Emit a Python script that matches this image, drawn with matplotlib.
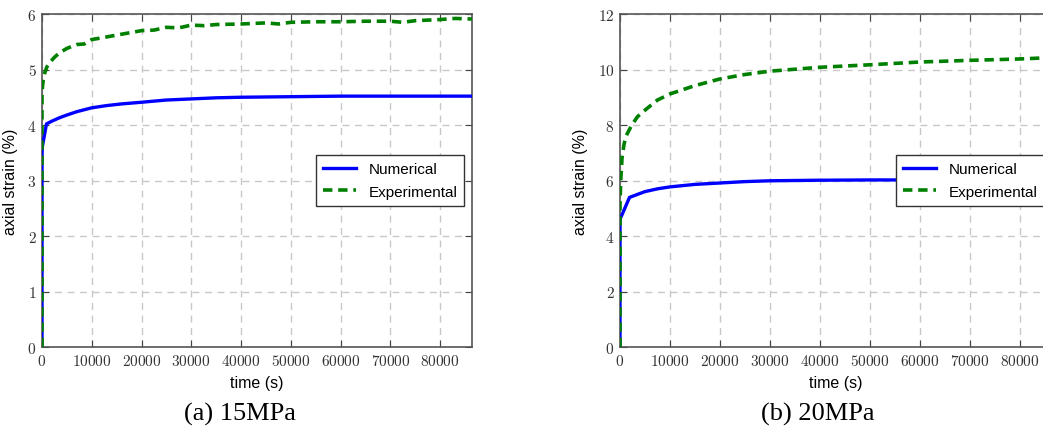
import matplotlib
matplotlib.use("Agg")
import matplotlib.pyplot as plt
from matplotlib.ticker import FuncFormatter, MultipleLocator

plt.rcParams['mathtext.fontset'] = 'cm'

# ---------------- data ----------------
# (a) 15 MPa
t_num_a = [0, 0, 50, 900, 2000, 3500, 5000, 7000, 10000, 13000, 16000, 20000, 25000,
           30000, 35000, 40000, 50000, 60000, 86400]
v_num_a = [0, 3.4, 3.6, 4.02, 4.07, 4.13, 4.18, 4.24, 4.31, 4.35, 4.38, 4.41, 4.45,
           4.47, 4.49, 4.50, 4.51, 4.52, 4.52]

t_exp_a = [0, 0, 100, 300, 600, 1000, 1600, 2500, 3500, 5000, 7000, 8500, 10000, 12000,
           15000, 17500, 20000, 22500, 25000, 27500, 30000, 32500, 35000, 40000, 45000,
           47500, 50000, 55000, 60000, 65000, 70000, 72500, 75000, 80000, 83000, 86400]
v_exp_a = [0, 4.5, 4.7, 4.85, 4.95, 5.05, 5.13, 5.22, 5.30, 5.38, 5.45, 5.46, 5.54, 5.57,
           5.62, 5.66, 5.70, 5.71, 5.76, 5.75, 5.80, 5.79, 5.81, 5.82, 5.84,
           5.82, 5.85, 5.86, 5.86, 5.87, 5.87, 5.85, 5.88, 5.90, 5.92, 5.91]

# (b) 20 MPa
t_num_b = [0, 0, 1900, 3500, 5000, 7500, 10000, 15000, 20000, 25000, 30000, 40000, 50000, 86400]
v_num_b = [0, 4.6, 5.39, 5.50, 5.60, 5.70, 5.77, 5.86, 5.91, 5.96, 5.99, 6.01, 6.02, 6.02]

t_exp_b = [0, 0, 150, 400, 800, 1200, 2300, 3500, 5300, 7500, 10000, 15000, 20000,
           25000, 30000, 40000, 50000, 60000, 70000, 80000, 86400]
v_exp_b = [0, 5.2, 6.0, 6.8, 7.3, 7.6, 7.98, 8.3, 8.58, 8.9, 9.12, 9.42, 9.66,
           9.82, 9.94, 10.08, 10.17, 10.27, 10.33, 10.38, 10.43]

captions = ["(a) 15MPa", "(b) 20MPa"]
ylims = [6, 12]
ysteps = [1, 2]
series_labels = ["Numerical", "Experimental"]

# ---------------- figure ----------------
W, H = 1043, 435
fig = plt.figure(figsize=(W / 100, H / 100), dpi=100)

def px_axes(x0, x1, y0, y1):
    return fig.add_axes([x0 / W, 1 - y1 / H, (x1 - x0) / W, (y1 - y0) / H])

ax_a = px_axes(42, 472, 15, 348)
ax_b = px_axes(620, 1052, 15, 348)

datasets = [
    (ax_a, t_num_a, v_num_a, t_exp_a, v_exp_a),
    (ax_b, t_num_b, v_num_b, t_exp_b, v_exp_b),
]

fmt = FuncFormatter(lambda v, p: r"$%d$" % int(round(v)))

for i, (ax, tn, vn, te, ve) in enumerate(datasets):
    ax.plot(tn, vn, color='#0000ff', lw=2.4, label=series_labels[0], zorder=3)
    ax.plot(te, ve, color='#008000', lw=2.6, ls=(0, (2.6, 1.6)), label=series_labels[1], zorder=3)
    ax.set_xlim(0, 86400)
    ax.set_ylim(0, ylims[i])
    ax.xaxis.set_major_locator(MultipleLocator(10000))
    ax.yaxis.set_major_locator(MultipleLocator(ysteps[i]))
    ax.xaxis.set_major_formatter(fmt)
    ax.yaxis.set_major_formatter(fmt)
    ax.grid(True, color='#c8c8c8', ls=(0, (5, 4)), lw=1.0)
    ax.set_axisbelow(True)
    ax.tick_params(direction='in', top=True, right=True, length=5, width=0.8,
                   color='#444444', labelsize=11, labelcolor='#333333', pad=4)
    for s in ax.spines.values():
        s.set_color('#555555')
        s.set_linewidth(1.2)
    ax.set_xlabel("time (s)", fontsize=11.5, family='Liberation Sans', labelpad=1)
    ax.set_ylabel("axial strain (%)", fontsize=11.5, family='Liberation Sans')
    ax.xaxis.set_label_coords(0.5, -0.085)
    ax.yaxis.set_label_coords(-0.056 if i == 0 else -0.074, 0.5)
    leg = ax.legend(loc='center right', bbox_to_anchor=(1.0, 0.5),
                    prop={'family': 'Liberation Sans', 'size': 11},
                    fancybox=False, framealpha=1, edgecolor='#333333',
                    handlelength=2.2, borderpad=0.45, labelspacing=0.55)
    leg.get_frame().set_linewidth(1.0)
    leg.set_zorder(5)

fig.text(240 / W, 1 - 414 / H, captions[0], ha='center', va='center',
         family='Liberation Serif', fontsize=19)
fig.text(818 / W, 1 - 414 / H, captions[1], ha='center', va='center',
         family='Liberation Serif', fontsize=19)

fig.savefig("out.png", dpi=100)
